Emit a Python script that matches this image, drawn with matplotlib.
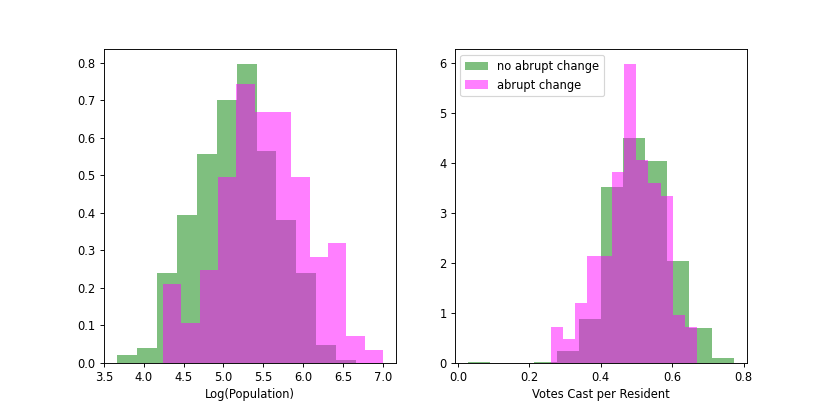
import numpy as np
import matplotlib
matplotlib.use('Agg')
import matplotlib.pyplot as plt

# bin edges and density heights
pop_edges_no = np.linspace(3.665, 6.665, 13)
pop_dens_no = [0.020, 0.040, 0.238, 0.394, 0.557, 0.700, 0.796, 0.565, 0.381, 0.238, 0.047, 0.006]

pop_edges_ab = np.linspace(4.243, 7.0, 13)
pop_dens_ab = [0.210, 0.105, 0.248, 0.495, 0.743, 0.670, 0.670, 0.495, 0.281, 0.318, 0.071, 0.035]

vote_edges_no = np.linspace(0.028, 0.772, 13)
vote_dens_no = [0.02, 0.0, 0.0, 0.02, 0.234, 0.876, 3.51, 4.50, 4.03, 2.04, 0.69, 0.094]

vote_edges_ab = np.linspace(0.2597, 0.6701, 13)
vote_dens_ab = [0.71, 0.475, 1.19, 2.14, 2.14, 3.82, 5.97, 4.06, 3.60, 3.34, 0.956, 0.71]

labels = ['no abrupt change', 'abrupt change']

fig, (ax1, ax2) = plt.subplots(1, 2, figsize=(10, 5), dpi=83)
fig.subplots_adjust(bottom=0.126, top=0.881)

# left: log population
ax1.hist(pop_edges_no[:-1], bins=pop_edges_no, weights=pop_dens_no,
         color='g', alpha=0.5, label=labels[0])
ax1.hist(pop_edges_ab[:-1], bins=pop_edges_ab, weights=pop_dens_ab,
         color='magenta', alpha=0.5, label=labels[1])
ax1.set_xlabel('Log(Population)')

# right: votes per resident
ax2.hist(vote_edges_no[:-1], bins=vote_edges_no, weights=vote_dens_no,
         color='g', alpha=0.5, label=labels[0])
ax2.hist(vote_edges_ab[:-1], bins=vote_edges_ab, weights=vote_dens_ab,
         color='magenta', alpha=0.5, label=labels[1])
ax2.set_xlabel('Votes Cast per Resident')
ax2.legend(loc='upper left')

fig.savefig('out.png', dpi=83)
